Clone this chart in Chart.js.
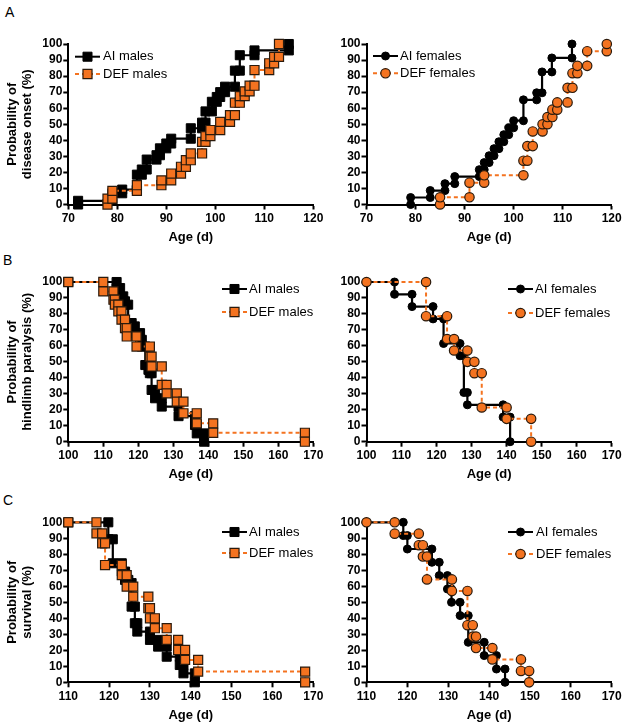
<!DOCTYPE html>
<html><head><meta charset="utf-8">
<script src="https://cdn.jsdelivr.net/npm/chart.js@4.4.1/dist/chart.umd.min.js"></script>
<style>
html,body{margin:0;padding:0;background:#fff;}
#wrap{position:relative;width:624px;height:725px;overflow:hidden;background:#fff;}
#wrap canvas{position:absolute;left:0;top:0;}
.lbl{position:absolute;font-family:Arial,'Liberation Sans',sans-serif;font-size:14px;color:#000;line-height:14px;}
</style></head><body>
<div id="wrap">
<div class="lbl" style="left:5px;top:5px">A</div>
<div class="lbl" style="left:3px;top:253px">B</div>
<div class="lbl" style="left:3px;top:493px">C</div>
</div>
<script>
// ---------- tick labels ----------
const onsetAgeTicks = [70, 80, 90, 100, 110, 120];
const paralysisAgeTicks = [100, 110, 120, 130, 140, 150, 160, 170];
const survivalAgeTicks = [110, 120, 130, 140, 150, 160, 170];
const pctTicks = [0, 10, 20, 30, 40, 50, 60, 70, 80, 90, 100];
const seriesNames = ['AI males', 'DEF males', 'AI females', 'DEF females'];

// ---------- A: disease onset (event age, cumulative %) ----------
const onsetAIMalesAge = [72, 79, 81, 84, 85, 86, 88, 88.7, 90, 91, 95, 97.3, 98, 99.3, 100.3, 101, 102, 104, 105, 108, 115];
const onsetAIMalesPct = [2.3, 7, 9.3, 18.6, 21.8, 28, 30.7, 35, 38, 41, 47.5, 51, 58, 64, 67, 70, 73.4, 83.4, 93, 96, 100];
const onsetDEFMalesAge = [78, 79, 84, 89, 91, 93, 94, 95, 97.3, 98, 99, 101, 103, 104, 105, 106, 107, 108, 111, 112, 113];
const onsetDEFMalesPct = [3.7, 8.5, 12, 15, 19.3, 23.5, 27.6, 31.8, 39, 42.6, 46.4, 51.5, 55.7, 63.4, 67.5, 70.5, 74, 83.8, 88, 92, 100];
const onsetAIFemalesAge = [79, 83, 86, 88, 93, 94, 95, 96, 97, 98, 99, 100, 102, 104.7, 105.8, 107.8, 111.9];
const onsetAIFemalesPct = [4.35, 8.7, 13, 17.4, 21.7, 26.1, 30.4, 34.8, 39.1, 43.5, 47.8, 52.2, 65.2, 69.6, 82.6, 91.3, 100];
const onsetDEFFemalesAge = [85, 91, 94, 102, 102.8, 103.9, 105.9, 106.9, 107.9, 108.9, 111, 112, 113, 115, 119];
const onsetDEFFemalesPct = [4.5, 13.6, 18.2, 27.3, 36.4, 45.5, 50, 54.5, 59.1, 63.6, 72.7, 81.8, 86.4, 95.5, 100];

// ---------- B: hindlimb paralysis (event age, remaining %) ----------
const paraAIMalesAge = [113.8, 114.8, 115.7, 116.2, 117.1, 118.1, 119, 120.5, 121, 122, 122.9, 123.3, 123.8, 124.8, 126.7, 131.5, 136.2, 136.7, 138.8];
const paraAIMalesPct = [96.2, 91, 87.9, 85.8, 74.3, 72.2, 68, 63.8, 59.6, 48, 45, 42.9, 32.4, 27.2, 22, 16, 10.5, 5.2, 0];
const paraDEFMalesAge = [110, 112.9, 113.3, 114.3, 115.2, 116.2, 116.7, 119.5, 123.3, 123.8, 126.7, 128.1, 131, 132.9, 136.7, 141.4, 167.6];
const paraDEFMalesPct = [94.1, 88.9, 85.8, 81.6, 76.4, 71.1, 65.9, 59.6, 53.3, 47.1, 35.6, 30.3, 25.1, 17.8, 11.5, 5.6, 0];
const paraAIFemalesAge = [108, 113, 119, 122, 126.7, 127.8, 128.8, 139, 141];
const paraAIFemalesPct = [92.3, 84.6, 76.9, 61.5, 53.8, 30.8, 23.1, 15.4, 0];
const paraDEFFemalesAge = [117, 123, 125, 128.8, 130.8, 132.9, 140, 147];
const paraDEFFemalesPct = [78.6, 64.3, 57.1, 50, 42.9, 21.4, 14.3, 0];

// ---------- C: survival (event age, surviving %) ----------
const survAIMalesAge = [119.8, 120.9, 123.1, 123.9, 124.7, 125.5, 126.3, 126.9, 130, 132, 134.1, 137.3, 138.2, 141];
const survAIMalesPct = [89.4, 74.4, 69.2, 64, 62, 47.3, 36.9, 31.7, 26.5, 22.3, 16, 10.8, 5.6, 0];
const survDEFMalesAge = [116.9, 118.3, 119, 123.1, 124.3, 125.9, 129.6, 130, 131.2, 134.1, 136.9, 138.6, 141.8, 168];
const survDEFMalesPct = [93.1, 86.9, 73.3, 67, 59.8, 53.5, 46.3, 40, 33.8, 26.5, 20.2, 14, 6.7, 0];
const survAIFemalesAge = [119, 120, 126, 127.8, 129.8, 130.8, 132.9, 134.9, 138.8, 141.8, 143.9];
const survAIFemalesPct = [91.7, 83.3, 75, 66.7, 58.3, 50, 41.7, 25, 16.7, 8.3, 0];
const survDEFFemalesAge = [116.9, 122.8, 123.8, 124.8, 130.9, 134.7, 136, 136.8, 140.8, 147.8, 149.8];
const survDEFFemalesPct = [92.9, 85.7, 78.6, 64.3, 57.1, 35.7, 28.6, 21.4, 14.3, 7.1, 0];
const survivalStartPct = 100;

// ---------- helpers ----------
const FONT = 'Arial, "Liberation Sans", sans-serif';
Chart.defaults.font.family = FONT;
Chart.defaults.color = '#000';
const ORANGE = '#F47320';
const ORANGE_EDGE = '#2a1a0c';

// staircase vertices: marker at the top and bottom of every step
function staircase(ages, pcts, startAge, startPct) {
  const pts = [];
  let prev = 0;
  if (startAge !== undefined) { pts.push({x: startAge, y: startPct}); prev = startPct; }
  for (let i = 0; i < ages.length; i++) {
    pts.push({x: ages[i], y: prev});
    pts.push({x: ages[i], y: pcts[i]});
    prev = pcts[i];
  }
  return pts;
}

function drawMarker(ctx, style, x, y, fill, edge, r, bw) {
  ctx.save();
  ctx.fillStyle = fill; ctx.strokeStyle = edge; ctx.lineWidth = bw;
  ctx.beginPath();
  if (style === 'rect') { const s = r * Math.SQRT1_2; ctx.rect(x - s, y - s, 2 * s, 2 * s); }
  else { ctx.arc(x, y, r, 0, Math.PI * 2); }
  ctx.fill(); if (bw > 0) ctx.stroke();
  ctx.restore();
}

function makeLegend(lg, style, names, mk) {
  return {
    id: 'kmLegend',
    afterDatasetsDraw(chart) {
      const ctx = chart.ctx;
      const items = [
        {y: lg.y1, color: '#000', dash: [], fill: '#000', edge: '#000', r: mk.aiR, bw: 1, text: names[0]},
        {y: lg.y2, color: ORANGE, dash: [4, 3], fill: ORANGE, edge: ORANGE_EDGE, r: mk.defR, bw: 1.2, text: names[1]}
      ];
      items.forEach(it => {
        ctx.save();
        ctx.strokeStyle = it.color; ctx.lineWidth = 2; ctx.setLineDash(it.dash);
        ctx.beginPath(); ctx.moveTo(lg.x1, it.y); ctx.lineTo(lg.x2, it.y); ctx.stroke();
        ctx.setLineDash([]);
        drawMarker(ctx, style, (lg.x1 + lg.x2) / 2, it.y, it.fill, it.edge, it.r, it.bw);
        ctx.fillStyle = '#000'; ctx.font = '13px ' + FONT;
        ctx.textBaseline = 'middle'; ctx.textAlign = 'left';
        ctx.fillText(it.text, lg.tx, it.y);
        ctx.restore();
      });
    }
  };
}

const W = 624, H = 725, XAXIS_H = 40.8;
const rows = {
  A: {T: 44, B: 204.5, ticks: onsetAgeTicks, title: ['Probability of', 'disease onset (%)']},
  B: {T: 282, B: 441.7, ticks: paralysisAgeTicks, title: ['Probability of', 'hindlimb paralysis (%)']},
  C: {T: 522.3, B: 682.3, ticks: survivalAgeTicks, title: ['Probability of', 'survival (%)']}
};
const cols = {
  L: {pad: 0, left: 68.3, right: 313.3, title: true},
  R: {pad: 330, left: 366.5, right: 611.7, title: false}
};

const panels = [
  {row: 'A', col: 'L', style: 'rect', names: [seriesNames[0], seriesNames[1]],
   ai: staircase(onsetAIMalesAge, onsetAIMalesPct), def: staircase(onsetDEFMalesAge, onsetDEFMalesPct),
   lg: {x1: 75, x2: 100, tx: 103, y1: 56.7, y2: 74}},
  {row: 'A', col: 'R', style: 'circle', names: [seriesNames[2], seriesNames[3]],
   ai: staircase(onsetAIFemalesAge, onsetAIFemalesPct), def: staircase(onsetDEFFemalesAge, onsetDEFFemalesPct),
   lg: {x1: 373, x2: 398, tx: 400, y1: 56, y2: 73.3}},
  {row: 'B', col: 'L', style: 'rect', names: [seriesNames[0], seriesNames[1]],
   ai: staircase(paraAIMalesAge, paraAIMalesPct, paralysisAgeTicks[0], survivalStartPct),
   def: staircase(paraDEFMalesAge, paraDEFMalesPct, paralysisAgeTicks[0], survivalStartPct),
   lg: {x1: 222, x2: 247, tx: 249, y1: 289, y2: 312}},
  {row: 'B', col: 'R', style: 'circle', names: [seriesNames[2], seriesNames[3]],
   ai: staircase(paraAIFemalesAge, paraAIFemalesPct, paralysisAgeTicks[0], survivalStartPct),
   def: staircase(paraDEFFemalesAge, paraDEFFemalesPct, paralysisAgeTicks[0], survivalStartPct),
   lg: {x1: 508, x2: 533, tx: 535, y1: 289, y2: 313}},
  {row: 'C', col: 'L', style: 'rect', names: [seriesNames[0], seriesNames[1]],
   ai: staircase(survAIMalesAge, survAIMalesPct, survivalAgeTicks[0], survivalStartPct),
   def: staircase(survDEFMalesAge, survDEFMalesPct, survivalAgeTicks[0], survivalStartPct),
   lg: {x1: 222, x2: 247, tx: 249, y1: 532, y2: 553}},
  {row: 'C', col: 'R', style: 'circle', names: [seriesNames[2], seriesNames[3]],
   ai: staircase(survAIFemalesAge, survAIFemalesPct, survivalAgeTicks[0], survivalStartPct),
   def: staircase(survDEFFemalesAge, survDEFFemalesPct, survivalAgeTicks[0], survivalStartPct),
   lg: {x1: 508, x2: 533, tx: 536, y1: 532, y2: 554}}
];

const wrap = document.getElementById('wrap');
panels.forEach((p, idx) => {
  const r = rows[p.row], c = cols[p.col];
  const cv = document.createElement('canvas');
  cv.width = W; cv.height = H;
  cv.style.width = W + 'px'; cv.style.height = H + 'px';
  wrap.appendChild(cv);
  const mk = p.style === 'rect' ? {aiR: 6.4, defR: 6.4} : {aiR: 4, defR: 4.7};
  const tickGrid = {display: true, drawOnChartArea: false, drawTicks: true, tickLength: 5, tickWidth: 2, tickColor: '#000', color: '#000'};
  const border = {display: true, color: '#000', width: 2};
  const yW = c.left - c.pad;
  new Chart(cv, {
    type: 'line',
    data: {
      datasets: [
        {label: p.names[1], data: p.def, borderColor: ORANGE, borderWidth: 2, borderDash: [4, 3],
         pointStyle: p.style, pointRadius: mk.defR, pointBackgroundColor: ORANGE, pointBorderColor: ORANGE_EDGE,
         pointBorderWidth: 1.2, tension: 0, fill: false, clip: false},
        {label: p.names[0], data: p.ai, borderColor: '#000', borderWidth: 2.2,
         pointStyle: p.style, pointRadius: mk.aiR, pointBackgroundColor: '#000', pointBorderColor: '#000',
         pointBorderWidth: 1, tension: 0, fill: false, clip: false}
      ]
    },
    options: {
      responsive: false, animation: false, events: [],
      layout: {padding: {left: c.pad, right: W - c.right, top: r.T, bottom: H - (r.B + XAXIS_H)}},
      plugins: {legend: {display: false}, tooltip: {enabled: false}},
      scales: {
        x: {type: 'linear', min: r.ticks[0], max: r.ticks[r.ticks.length - 1],
            afterBuildTicks: s => { s.ticks = r.ticks.map(v => ({value: v})); },
            ticks: {autoSkip: false, maxRotation: 0, padding: 2, color: '#000', font: {size: 12, weight: 'bold'}},
            grid: tickGrid, border: border,
            title: {display: true, text: 'Age (d)', color: '#000', font: {size: 13, weight: 'bold'}, padding: 0},
            afterFit: s => { s.height = XAXIS_H; }},
        y: {type: 'linear', min: pctTicks[0], max: pctTicks[pctTicks.length - 1],
            afterBuildTicks: s => { s.ticks = pctTicks.map(v => ({value: v})); },
            ticks: {autoSkip: false, padding: 1, color: '#000', font: {size: 12, weight: 'bold'}},
            grid: tickGrid, border: border,
            title: {display: c.title, text: r.title, color: '#000', font: {size: 13, weight: 'bold'}, padding: {top: 4.2, bottom: 0}},
            afterFit: s => { s.width = yW; }}
      }
    },
    plugins: [makeLegend(p.lg, p.style, p.names, mk)]
  });
});
</script>
</body></html>
